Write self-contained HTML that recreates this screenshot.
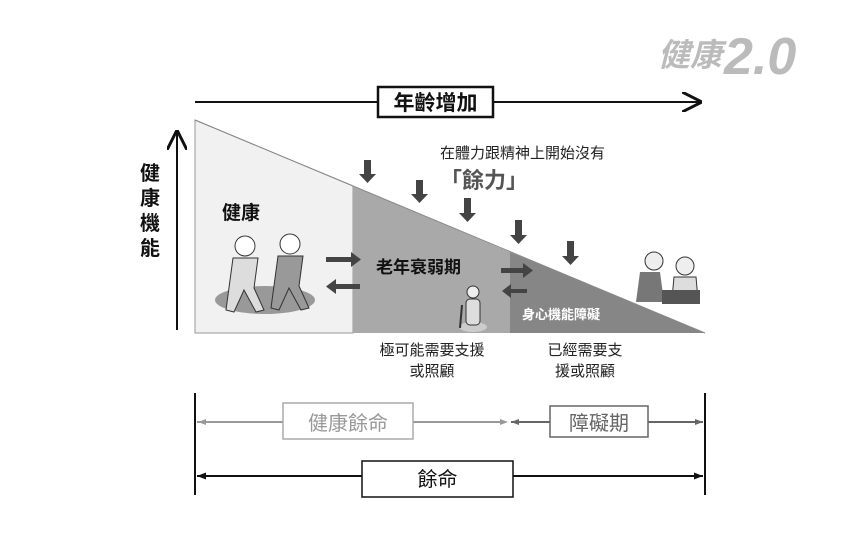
<!DOCTYPE html>
<html><head><meta charset="utf-8"><style>
body{margin:0;width:850px;height:532px;background:#fff;overflow:hidden;font-family:"Liberation Sans","Noto Sans CJK TC",sans-serif}
</style></head><body>
<svg width="850" height="532" xmlns="http://www.w3.org/2000/svg" font-family="Liberation Sans, Noto Sans CJK TC, sans-serif">
<defs>
<marker id="ab" markerWidth="10" markerHeight="10" refX="9" refY="5" orient="auto"><path d="M0,0 L10,5 L0,10" fill="none" stroke="#111" stroke-width="1.5"/></marker>
</defs>
<!-- logo -->
<text x="658" y="66" font-size="32" font-weight="bold" fill="#bbb" font-style="italic">健康</text>
<text x="724" y="74" font-size="52" font-weight="bold" fill="#bbb" font-style="italic">2.0</text>
<!-- top arrow -->
<line x1="195" y1="102" x2="700" y2="102" stroke="#111" stroke-width="2" marker-end="url(#ab)"/>
<rect x="378" y="87" width="115" height="30" fill="#fff" stroke="#111" stroke-width="2.5"/>
<text x="435.5" y="110" font-size="21" font-weight="bold" text-anchor="middle" fill="#111">年齡增加</text>
<!-- y axis -->
<line x1="177" y1="330" x2="177" y2="132" stroke="#111" stroke-width="2" marker-end="url(#ab)"/>
<text font-size="20" font-weight="bold" fill="#111"><tspan x="140" y="180">健</tspan><tspan x="140" y="205">康</tspan><tspan x="140" y="230">機</tspan><tspan x="140" y="255">能</tspan></text>
<!-- triangle regions -->
<polygon points="195,120 353,186 353,333 195,333" fill="#f1f1f1" stroke="#999" stroke-width="1"/>
<polygon points="353,186 510,252 510,333 353,333" fill="#a9a9a9"/>
<polygon points="510,252 705,333 510,333" fill="#868686"/>
<line x1="195" y1="120" x2="705" y2="333" stroke="#888" stroke-width="1"/>
<text x="440" y="158" font-size="15" fill="#222">在體力跟精神上開始沒有</text>
<text x="440" y="188" font-size="22" font-weight="bold" fill="#555">「餘力」</text>
<g fill="#444">
<path d="M364,160h7v14h5l-8.5,9l-8.5,-9h5z"/>
<path d="M416,180h7v14h5l-8.5,9l-8.5,-9h5z"/>
<path d="M464,198h7v15h5l-8.5,9l-8.5,-9h5z"/>
<path d="M515,220h7v15h5l-8.5,9l-8.5,-9h5z"/>
<path d="M567,241h7v15h5l-8.5,9l-8.5,-9h5z"/>
</g>
<text x="222" y="219" font-size="19" font-weight="bold" fill="#111">健康</text>
<ellipse cx="265" cy="300" rx="50" ry="14" fill="#999"/>
<circle cx="245" cy="246" r="10" fill="#fff" stroke="#333"/>
<circle cx="290" cy="244" r="10" fill="#fff" stroke="#333"/>
<path d="M233,258 l25,0 l-4,30 l10,22 l-8,2 l-12,-22 l-10,22 l-8,-2 z" fill="#ddd" stroke="#333"/>
<path d="M278,256 l25,0 l-4,30 l10,22 l-8,2 l-12,-22 l-10,22 l-8,-2 z" fill="#999" stroke="#333"/>
<g fill="#444">
<path d="M326,257h25v-5l10,7.5l-10,7.5v-5h-25z"/>
<path d="M360,284h-24v-5l-10,7.5l10,7.5v-5h24z"/>
<path d="M501,268h22v-5l10,7.5l-10,7.5v-5h-22z"/>
<path d="M527,289h-16v-5l-9,7l9,7v-5h16z"/>
</g>
<text x="376" y="273" font-size="17" font-weight="bold" fill="#111">老年衰弱期</text>
<ellipse cx="473" cy="327" rx="14" ry="5" fill="#ccc"/>
<circle cx="473" cy="292" r="6" fill="#eee" stroke="#333"/>
<rect x="466" y="299" width="14" height="26" rx="4" fill="#ddd" stroke="#333"/>
<line x1="462" y1="305" x2="460" y2="328" stroke="#333" stroke-width="2"/>
<text x="522" y="319" font-size="13" font-weight="bold" fill="#fff">身心機能障礙</text>
<circle cx="654" cy="261" r="9" fill="#eee" stroke="#333"/>
<circle cx="685" cy="266" r="9" fill="#eee" stroke="#333"/>
<path d="M640,272 l20,0 l4,30 l-28,0 z" fill="#777"/>
<path d="M674,277 l22,0 l2,22 l-26,0 z" fill="#ddd" stroke="#333"/>
<rect x="662" y="290" width="38" height="14" fill="#555"/>
<text x="432" y="355" font-size="15" text-anchor="middle" fill="#222">極可能需要支援</text>
<text x="432" y="376" font-size="15" text-anchor="middle" fill="#222">或照顧</text>
<text x="585" y="355" font-size="15" text-anchor="middle" fill="#222">已經需要支</text>
<text x="585" y="376" font-size="15" text-anchor="middle" fill="#222">援或照顧</text>
<line x1="195" y1="393" x2="195" y2="495" stroke="#111" stroke-width="2"/>
<line x1="705" y1="393" x2="705" y2="495" stroke="#111" stroke-width="2"/>
<line x1="197" y1="422" x2="505" y2="422" stroke="#999" stroke-width="2"/>
<path d="M198,422l8,-3v6z M508,422l-8,-3v6z" fill="#999"/>
<rect x="283" y="403" width="130" height="36" fill="#fff" stroke="#aaa" stroke-width="1.5"/>
<text x="348" y="430" font-size="20" text-anchor="middle" fill="#999">健康餘命</text>
<line x1="511" y1="422" x2="703" y2="422" stroke="#666" stroke-width="2"/>
<path d="M511,422l8,-3v6z M703,422l-8,-3v6z" fill="#666"/>
<rect x="550" y="406" width="98" height="31" fill="#fff" stroke="#666" stroke-width="1.5"/>
<text x="599" y="430" font-size="20" text-anchor="middle" fill="#666">障礙期</text>
<line x1="197" y1="476" x2="703" y2="476" stroke="#111" stroke-width="2"/>
<path d="M197,476l9,-3.5v7z M703,476l-9,-3.5v7z" fill="#111"/>
<rect x="362" y="461" width="151" height="36" fill="#fff" stroke="#111" stroke-width="1.5"/>
<text x="437.5" y="486" font-size="20" text-anchor="middle" fill="#111">餘命</text>
</svg>
</body></html>
